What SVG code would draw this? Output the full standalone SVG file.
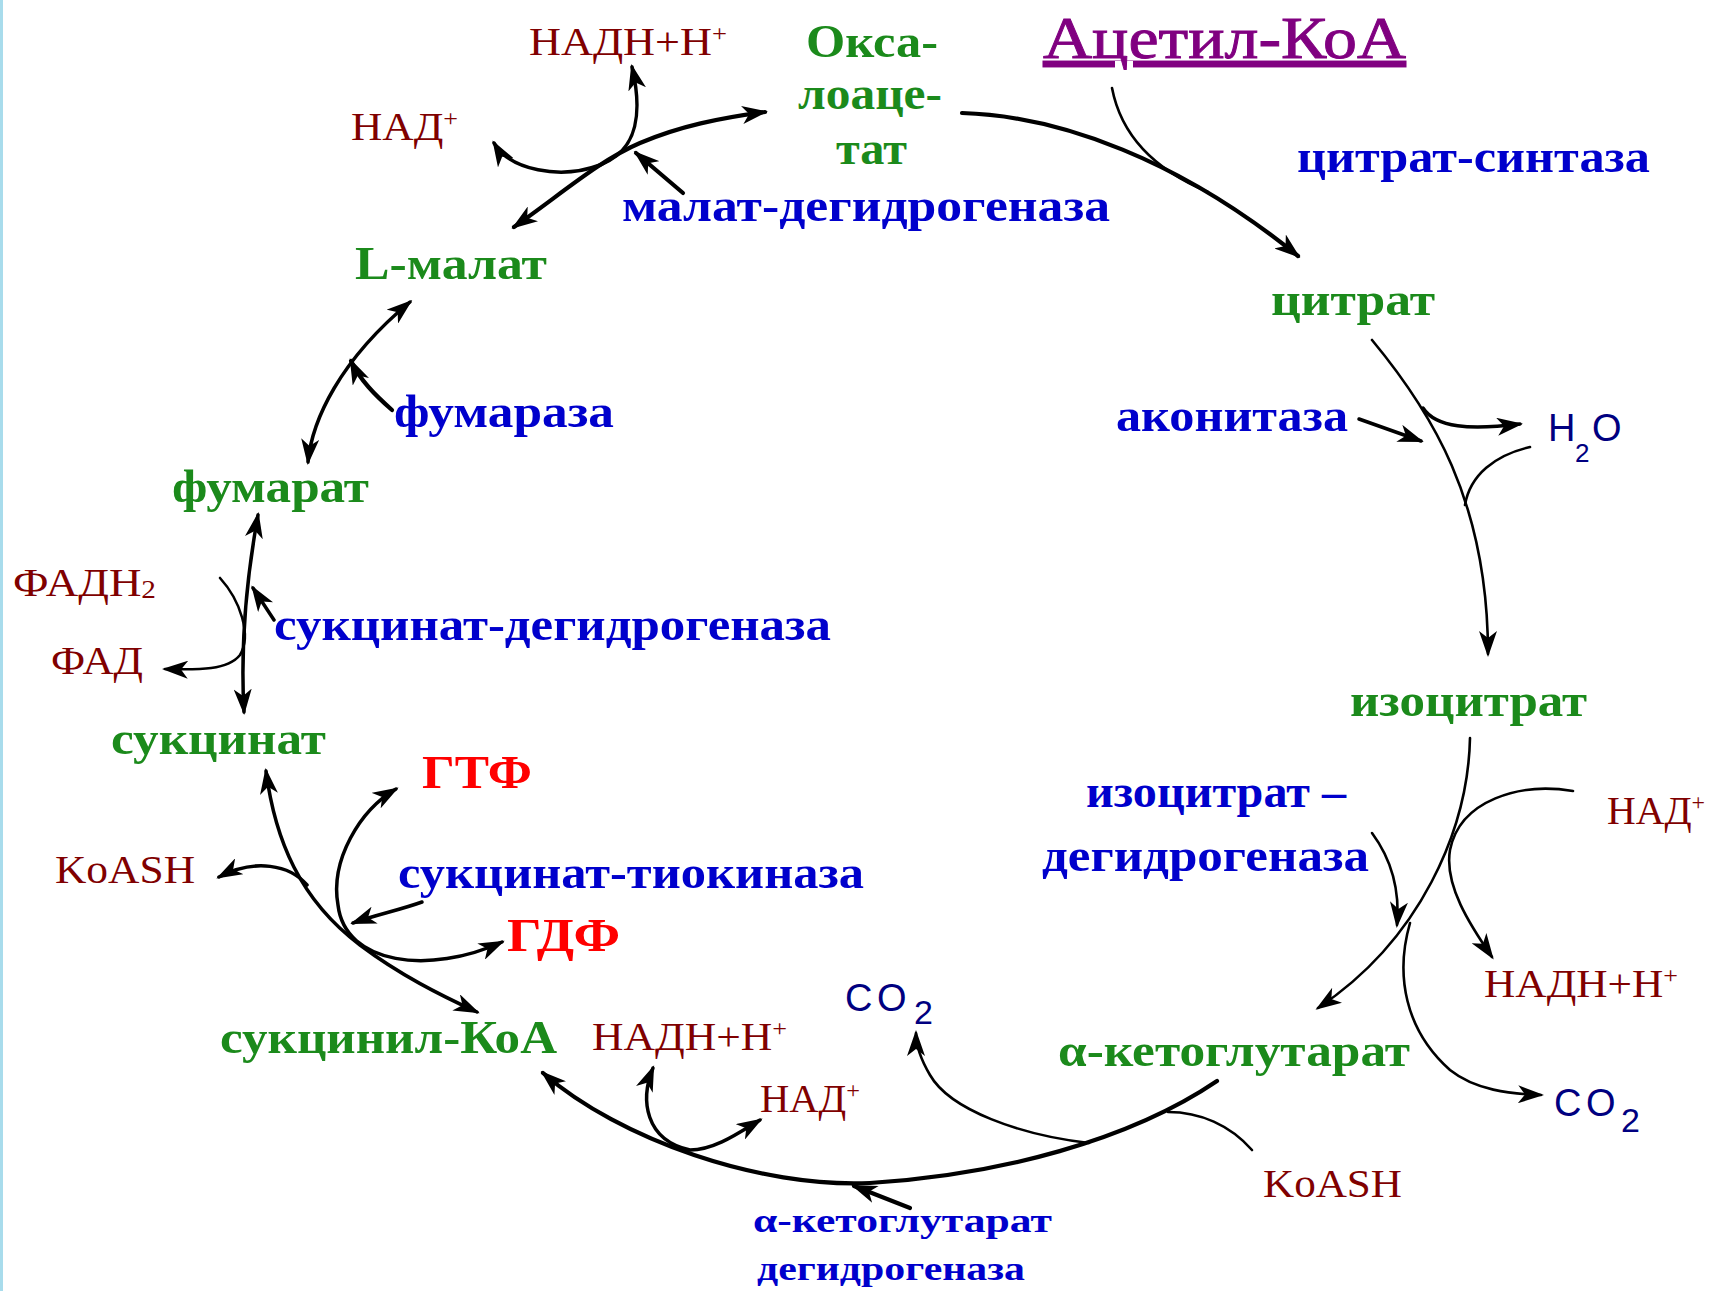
<svg xmlns="http://www.w3.org/2000/svg" width="1714" height="1291" viewBox="0 0 1714 1291">
<style>
.bg{fill:#ffffff}
.met{font-family:"Liberation Serif","Times New Roman",serif;font-weight:bold;font-size:46px;fill:#1b8a1b}
.enz{font-family:"Liberation Serif","Times New Roman",serif;font-weight:bold;font-size:46px;fill:#0000cc}
.enzs{font-family:"Liberation Serif","Times New Roman",serif;font-weight:bold;font-size:34px;fill:#0000cc}
.cof{font-family:"Liberation Serif","Times New Roman",serif;font-size:40px;fill:#800000}
.sup{font-size:24px}
.nuc{font-family:"Liberation Serif","Times New Roman",serif;font-weight:bold;font-size:46px;fill:#ff0000}
.acet{font-family:"Liberation Serif","Times New Roman",serif;font-size:60px;fill:#800080;stroke:#800080;stroke-width:0.9;text-decoration:underline}
.gas{font-family:"Liberation Sans",Arial,sans-serif;font-size:38px;fill:#000080}
.ln{fill:none;stroke:#000;stroke-width:3.5;stroke-linecap:round}
.th{stroke-width:2.6}
.hv{stroke-width:4.2}
.a2{marker-start:url(#ah);marker-end:url(#ah)}
.a1{marker-end:url(#ah)}
</style>
<defs>
<marker id="ah" viewBox="0 0 26 18" refX="23" refY="9" markerWidth="26" markerHeight="18" markerUnits="userSpaceOnUse" orient="auto-start-reverse">
<path d="M0,0 L26,9 L0,18 L7,9 Z" fill="#000"/>
</marker>
</defs>
<rect class="bg" x="0" y="0" width="1714" height="1291"/>
<rect x="0" y="0" width="3" height="1291" fill="#a8dcec"/>

<g id="connectors">
<!-- malate <-> oxaloacetate -->
<path class="ln hv a2" d="M514,227 C560,195 600,160 640,143 S720,118 765,112"/>
<!-- NAD+ <-> NADH (malate DH) -->
<path class="ln a2" d="M494,143 C510,170 560,180 600,165 S642,110 632,67"/>
<!-- malate DH enzyme -->
<path class="ln hv a1" d="M683,193 L636,153"/>
<!-- OAA -> citrate -->
<path class="ln hv a1" d="M962,113 C1060,116 1180,160 1298,256"/>
<!-- acetyl-CoA into citrate synthase -->
<path class="ln th" d="M1112,88 C1122,140 1160,172 1208,192"/>
<!-- citrate -> isocitrate -->
<path class="ln th a1" d="M1372,340 C1430,410 1488,500 1488,654"/>
<!-- H2O out -->
<path class="ln a1" d="M1423,408 C1436,428 1470,430 1520,424"/>
<!-- H2O in -->
<path class="ln th" d="M1530,447 C1495,455 1470,475 1465,505"/>
<!-- aconitase -->
<path class="ln a1" d="M1359,419 L1421,441"/>
<!-- isocitrate -> alpha-KG -->
<path class="ln th a1" d="M1470,738 C1468,830 1420,940 1318,1008"/>
<!-- NAD+ -> NADH (IDH) -->
<path class="ln th a1" d="M1573,791 C1520,782 1460,800 1450,850 C1444,885 1470,925 1492,957"/>
<!-- CO2 (IDH) -->
<path class="ln th a1" d="M1410,923 C1395,975 1405,1030 1450,1070 C1475,1090 1510,1094 1541,1095"/>
<!-- IDH enzyme -->
<path class="ln th a1" d="M1372,833 C1392,860 1400,890 1397,925"/>
<!-- alpha-KG -> succinyl-CoA -->
<path class="ln hv a1" d="M1217,1081 C1130,1140 1000,1175 870,1183 C760,1188 620,1140 543,1073"/>
<!-- CO2 (KGDH) -->
<path class="ln th a1" d="M1089,1143 C1020,1135 950,1110 930,1075 C920,1058 916,1045 916,1033"/>
<!-- KoASH in (KGDH) -->
<path class="ln th" d="M1252,1150 C1230,1125 1200,1112 1168,1112"/>
<!-- KGDH enzyme -->
<path class="ln hv a1" d="M910,1208 L854,1186"/>
<!-- NAD+ <-> NADH (KGDH) -->
<path class="ln a2" d="M653,1068 C640,1100 645,1140 690,1150 C715,1150 740,1132 760,1120"/>
<!-- succinyl-CoA <-> succinate -->
<path class="ln a2" d="M266,771 C275,840 300,900 360,945 C400,975 440,995 477,1012"/>
<!-- KoASH out -->
<path class="ln a1" d="M307,885 C290,865 255,858 219,877"/>
<!-- GTP <-> GDP -->
<path class="ln a2" d="M396,789 C360,810 330,860 338,905 C345,965 430,975 502,942"/>
<!-- succinate thiokinase enzyme -->
<path class="ln a1" d="M422,902 C400,910 375,915 353,923"/>
<!-- succinate <-> fumarate -->
<path class="ln a2" d="M244,712 C240,640 248,570 258,515"/>
<!-- FADH2 -> FAD -->
<path class="ln th a1" d="M220,578 C240,600 252,635 240,655 C228,670 200,670 165,669"/>
<!-- SDH enzyme -->
<path class="ln a1" d="M274,620 L253,588"/>
<!-- fumarate <-> malate -->
<path class="ln a2" d="M308,462 C312,420 340,360 410,302"/>
<!-- fumarase enzyme -->
<path class="ln hv a1" d="M392,410 C375,395 360,380 351,361"/>
</g>

<g id="acetyl-coa"><text class="acet" x="1043" y="58" textLength="363" lengthAdjust="spacingAndGlyphs">Ацетил-КоА</text></g>
<g id="oxaloacetate">
<text class="met" x="806" y="57" textLength="132" lengthAdjust="spacingAndGlyphs">Окса-</text>
<text class="met" x="798" y="109" textLength="144" lengthAdjust="spacingAndGlyphs">лоаце-</text>
<text class="met" x="836" y="164" textLength="71" lengthAdjust="spacingAndGlyphs">тат</text>
</g>
<g id="citrate"><text class="met" x="1271" y="315" textLength="164" lengthAdjust="spacingAndGlyphs">цитрат</text></g>
<g id="isocitrate"><text class="met" x="1350" y="716" textLength="237" lengthAdjust="spacingAndGlyphs">изоцитрат</text></g>
<g id="alpha-ketoglutarate"><text class="met" x="1058" y="1066" textLength="352" lengthAdjust="spacingAndGlyphs">α-кетоглутарат</text></g>
<g id="succinyl-coa"><text class="met" x="220" y="1053" textLength="337" lengthAdjust="spacingAndGlyphs">сукцинил-КоА</text></g>
<g id="succinate"><text class="met" x="111" y="754" textLength="215" lengthAdjust="spacingAndGlyphs">сукцинат</text></g>
<g id="fumarate"><text class="met" x="172" y="502" textLength="197" lengthAdjust="spacingAndGlyphs">фумарат</text></g>
<g id="l-malate"><text class="met" x="355" y="279" textLength="192" lengthAdjust="spacingAndGlyphs">L-малат</text></g>

<g id="enz-mdh"><text class="enz" x="622" y="221" textLength="488" lengthAdjust="spacingAndGlyphs">малат-дегидрогеназа</text></g>
<g id="enz-cs"><text class="enz" x="1297" y="172" textLength="353" lengthAdjust="spacingAndGlyphs">цитрат-синтаза</text></g>
<g id="enz-aco"><text class="enz" x="1116" y="431" textLength="232" lengthAdjust="spacingAndGlyphs">аконитаза</text></g>
<g id="enz-idh">
<text class="enz" x="1086" y="807" textLength="260" lengthAdjust="spacingAndGlyphs">изоцитрат –</text>
<text class="enz" x="1042" y="871" textLength="327" lengthAdjust="spacingAndGlyphs">дегидрогеназа</text>
</g>
<g id="enz-kgdh">
<text class="enzs" x="753" y="1232" textLength="299" lengthAdjust="spacingAndGlyphs">α-кетоглутарат</text>
<text class="enzs" x="757" y="1280" textLength="268" lengthAdjust="spacingAndGlyphs">дегидрогеназа</text>
</g>
<g id="enz-stk"><text class="enz" x="398" y="888" textLength="466" lengthAdjust="spacingAndGlyphs">сукцинат-тиокиназа</text></g>
<g id="enz-sdh"><text class="enz" x="274" y="640" textLength="557" lengthAdjust="spacingAndGlyphs">сукцинат-дегидрогеназа</text></g>
<g id="enz-fum"><text class="enz" x="394" y="427" textLength="220" lengthAdjust="spacingAndGlyphs">фумараза</text></g>

<g id="nadh-1"><text class="cof" x="529" y="55" textLength="198" lengthAdjust="spacingAndGlyphs">НАДН+Н<tspan class="sup" dy="-14">+</tspan></text></g>
<g id="nad-1"><text class="cof" x="351" y="140" textLength="107" lengthAdjust="spacingAndGlyphs">НАД<tspan class="sup" dy="-14">+</tspan></text></g>
<g id="h2o"><text class="gas" x="1548" y="441">H<tspan x="1575" y="462" font-size="26">2</tspan><tspan x="1592" y="441">O</tspan></text></g>
<g id="nad-2"><text class="cof" x="1607" y="824" textLength="98" lengthAdjust="spacingAndGlyphs">НАД<tspan class="sup" dy="-14">+</tspan></text></g>
<g id="nadh-2"><text class="cof" x="1484" y="997" textLength="194" lengthAdjust="spacingAndGlyphs">НАДН+Н<tspan class="sup" dy="-14">+</tspan></text></g>
<g id="co2-1"><text class="gas" x="1554" y="1116">C<tspan x="1586" y="1116">O</tspan><tspan x="1621" y="1132" font-size="34">2</tspan></text></g>
<g id="co2-2"><text class="gas" x="845" y="1011">C<tspan x="877" y="1011">O</tspan><tspan x="914" y="1024" font-size="34">2</tspan></text></g>
<g id="koash-1"><text class="cof" x="1263" y="1197" textLength="139" lengthAdjust="spacingAndGlyphs">KoASH</text></g>
<g id="nad-3"><text class="cof" x="760" y="1112" textLength="100" lengthAdjust="spacingAndGlyphs">НАД<tspan class="sup" dy="-14">+</tspan></text></g>
<g id="nadh-3"><text class="cof" x="592" y="1050" textLength="195" lengthAdjust="spacingAndGlyphs">НАДН+Н<tspan class="sup" dy="-14">+</tspan></text></g>
<g id="gdp"><text class="nuc" x="507" y="951" textLength="113" lengthAdjust="spacingAndGlyphs">ГДФ</text></g>
<g id="gtp"><text class="nuc" x="422" y="788" textLength="110" lengthAdjust="spacingAndGlyphs">ГТФ</text></g>
<g id="koash-2"><text class="cof" x="55" y="883" textLength="140" lengthAdjust="spacingAndGlyphs">KoASH</text></g>
<g id="fadh2"><text class="cof" x="13" y="596" textLength="143" lengthAdjust="spacingAndGlyphs">ФАДН<tspan font-size="26" dy="2">2</tspan></text></g>
<g id="fad"><text class="cof" x="51" y="674" textLength="92" lengthAdjust="spacingAndGlyphs">ФАД</text></g>
</svg>
